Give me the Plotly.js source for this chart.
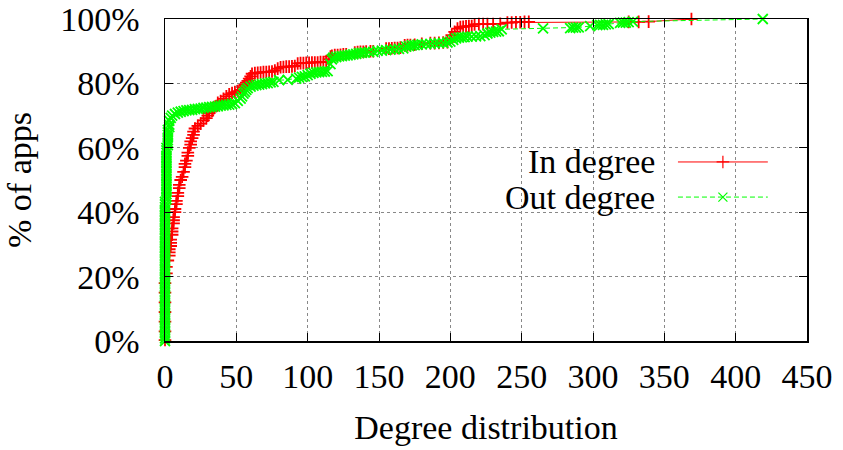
<!DOCTYPE html>
<html>
<head>
<meta charset="utf-8">
<script src="https://cdn.plot.ly/plotly-3.0.1.min.js"></script>
<style>html,body{margin:0;padding:0;background:#fff}#chart{width:843px;height:450px}</style>
</head>
<body>
<div id="chart"></div>
<script>
// In degree (red): degree value, cumulative % of apps
const inDegreeX = [0,0,0,0,0,0,0,1,1,2,3,3,3,4,4,4,5,5,5,6,6,6,7,7,8,8,9,9,10,10,11,12,13,14,14,15,16,16,17,18,18,19,20,20,21,23,25,27,29,30,31,33,34,36,37,39,41,43,45,47,49,51,53,55,56,57,58,59,60,61,63,65,67,69,71,73,75,77,79,81,83,85,87,89,91,93,95,97,99,101,103,105,107,109,111,113,115,116,117,119,121,123,125,127,133,135,137,139,141,144,146,155,157,159,161,163,165,168,170,172,175,180,186,189,192,195,198,200,201,203,205,207,209,211,213,215,217,220,223,226,230,235,240,243,246,249,252,255,325,332,339,369];
const inDegreeY = [0.3,3,6,9,12,15,18,21,23,25,26.5,27.5,28.5,29.5,30.5,31.5,33,34,35,36.5,37.5,38.5,40,41,42.5,43.5,45,46,47.5,48.5,50,51,52.5,54,55,56,57.5,58.5,60,61,62,63,64,65,66,66.8,67.5,68.5,69.2,70,70.8,71.5,72.2,73,74,74.5,75.2,76,76.6,77,77.3,77.6,78,78.8,79.5,80.2,80.8,81.5,82.2,83,83.2,83.3,83.4,83.5,83.5,83.6,83.7,84,84.6,85,85.1,85.2,85.2,85.3,85.4,86.2,86.3,86.3,86.4,86.4,86.5,86.5,86.5,86.6,86.6,86.7,87.5,88.3,88.6,88.8,88.8,88.9,89,89,89.6,89.7,89.8,89.8,89.9,90,90,90.8,90.8,90.9,91,91,91.1,91.8,91.9,91.9,92,92.3,92.5,92.5,92.6,92.7,92.8,94,95,96,97,97.5,97.6,97.7,97.8,97.8,98.3,98.4,98.4,98.4,98.4,98.5,98.9,98.9,99,99,99.1,99.1,99.1,99.1,99.2,100];

// Out degree (green)
const outDegreeX = [0,0,0,0,0,0,0,0,0,0,0,0,0,0,0,0,0,0,0,0,0,0,0,0,0,0,0,0,0,0,0,0,0,0,0,0,0,0,0,0,0,0,0,0,0,0,0,0,0,0,0,0,0,0,0,1,1,1,1,1,1,1,1,1,1,1,1,1,1,1,1,1,1,1,1,1,2,2,2,2,2,2,2,3,3,3,4,5,7,9,11,13,15,17,19,21,23,25,27,29,31,33,35,37,39,41,43,45,47,49,51,53,54,55,56,57,58,60,62,64,66,68,70,72,74,76,80,86,92,94,96,98,100,102,104,106,108,110,112,114,116,117,118,120,122,124,126,128,130,132,134,136,138,140,143,146,149,152,155,158,161,164,167,169,171,173,175,177,180,183,186,189,192,195,198,200,202,204,206,208,210,212,215,218,221,224,226,228,230,232,234,236,265,284,286,288,290,298,303,305,307,309,311,319,321,323,325,328,419];
const outDegreeY = [0,0.8,1.6,2.4,3.2,4,4.8,5.6,6.4,7.2,8,8.8,9.6,10.4,11.2,12,12.8,13.6,14.4,15.2,16,16.8,17.6,18.4,19.2,20,20.8,21.6,22.4,23.2,24,24.8,25.6,26.4,27.2,28,28.8,29.6,30.4,31.2,32,32.8,33.6,34.4,35.2,36,36.8,37.6,38.4,39.2,40,40.8,41.6,42.4,43.2,44,44.8,45.6,46.4,47.2,48,48.8,49.6,50.4,51.2,52,52.8,53.6,54.4,55.2,56,56.8,57.6,58.4,59.2,60,60.8,61.6,62.4,63.2,64,64.8,65.6,66.4,67.2,68.4,69.3,70,70.5,70.9,71.2,71.4,71.6,71.7,71.8,72,72.1,72.2,72.4,72.5,72.6,72.7,72.8,72.9,73.1,73.2,73.3,73.4,73.6,73.9,74.6,75.3,76,76.8,77.4,78,78.5,79,79.3,79.5,79.6,79.8,80,80.1,80.3,80.5,81,81.1,81.5,81.8,82,82.2,82.6,83,83.3,83.4,83.5,83.6,83.7,83.8,86,87.5,88,88.2,88.4,88.5,88.6,88.7,88.9,89,89.2,89.4,89.5,89.6,89.7,89.8,90.1,90.2,90.3,90.5,90.6,90.7,90.9,91.4,91.6,91.8,91.9,92,92.1,92.2,92.3,92.4,92.5,92.6,92.7,93,93.5,94,94.2,94.3,94.4,94.5,94.5,94.6,94.7,95,95.5,95.8,96,96.1,96.2,96.8,97.1,97.2,97.3,97.3,97.4,97.8,98.1,98.2,98.2,98.3,98.4,98.8,98.9,98.9,99,99.2,100];

const seriesNames = ["In degree", "Out degree"];
const xTicks = [0,50,100,150,200,250,300,350,400,450];
const yTicks = [0,20,40,60,80,100];

const FONT = "Liberation Serif";
const FS = 34;

const traces = [
  {x: inDegreeX, y: inDegreeY, type: "scatter", mode: "lines+markers", name: seriesNames[0],
   line: {color: "#ff0000", width: 1}, marker: {symbol: "cross-thin", size: 9, line: {color: "#ff0000", width: 1.8}},
   cliponaxis: false, showlegend: false},
  {x: outDegreeX, y: outDegreeY, type: "scatter", mode: "lines+markers", name: seriesNames[1],
   line: {color: "#00ff00", width: 1, dash: "5px,3px"}, marker: {symbol: "x-thin", size: 10, line: {color: "#00ff00", width: 1.8}},
   cliponaxis: false, showlegend: false},
  // legend sample markers (overlay axes in unit coordinates)
  {x: [0.869], y: [0.556], xaxis: "x2", yaxis: "y2", type: "scatter", mode: "markers", hoverinfo: "skip",
   marker: {symbol: "cross-thin", size: 9, line: {color: "#ff0000", width: 1.2}}, showlegend: false, cliponaxis: false},
  {x: [0.869], y: [0.447], xaxis: "x2", yaxis: "y2", type: "scatter", mode: "markers", hoverinfo: "skip",
   marker: {symbol: "x-thin", size: 9, line: {color: "#00ff00", width: 1.2}}, showlegend: false, cliponaxis: false}
];

const axisCommon = {
  showline: true, linecolor: "#000", linewidth: 1.5, mirror: "allticks",
  ticks: "inside", ticklen: 8, tickwidth: 1, tickcolor: "#000",
  showgrid: true, gridcolor: "#888", griddash: "dot", gridwidth: 1,
  zeroline: false, tickfont: {family: FONT, size: FS, color: "#000"}
};

const layout = {
  width: 843, height: 450,
  margin: {l: 165, r: 36, t: 19, b: 109},
  paper_bgcolor: "#fff", plot_bgcolor: "#fff",
  font: {family: FONT, size: FS, color: "#000"},
  xaxis: Object.assign({}, axisCommon, {
    range: [0, 450], tickvals: xTicks, ticktext: xTicks.map(String), ticklabelstandoff: 5,
    title: {text: "Degree distribution", font: {family: FONT, size: FS}, standoff: 21}
  }),
  yaxis: Object.assign({}, axisCommon, {
    range: [0, 100], tickvals: yTicks, ticktext: yTicks.map(v => v + "%"), ticklabelstandoff: 17,
    title: {text: "% of apps", font: {family: FONT, size: FS}, standoff: 18}
  }),
  xaxis2: {overlaying: "x", range: [0, 1], visible: false, fixedrange: true},
  yaxis2: {overlaying: "y", range: [0, 1], visible: false, fixedrange: true},
  shapes: [
    {type: "rect", xref: "paper", yref: "paper", x0: 0.445, x1: 0.974, y0: 0.394, y1: 0.609,
     fillcolor: "#fff", line: {width: 0}, layer: "between"},
    {type: "line", xref: "paper", yref: "paper", x0: 0.799, x1: 0.939, y0: 0.556, y1: 0.556,
     line: {color: "#ff0000", width: 1}},
    {type: "line", xref: "paper", yref: "paper", x0: 0.799, x1: 0.939, y0: 0.447, y1: 0.447,
     line: {color: "#00ff00", width: 1, dash: "5px,3px"}}
  ],
  annotations: [
    {xref: "paper", yref: "paper", x: 0.766, y: 0.556, xanchor: "right", yanchor: "middle",
     text: seriesNames[0], showarrow: false, font: {family: FONT, size: FS, color: "#000"}},
    {xref: "paper", yref: "paper", x: 0.766, y: 0.447, xanchor: "right", yanchor: "middle",
     text: seriesNames[1], showarrow: false, font: {family: FONT, size: FS, color: "#000"}}
  ]
};

Plotly.newPlot("chart", traces, layout, {staticPlot: true, displayModeBar: false});
</script>
</body>
</html>
